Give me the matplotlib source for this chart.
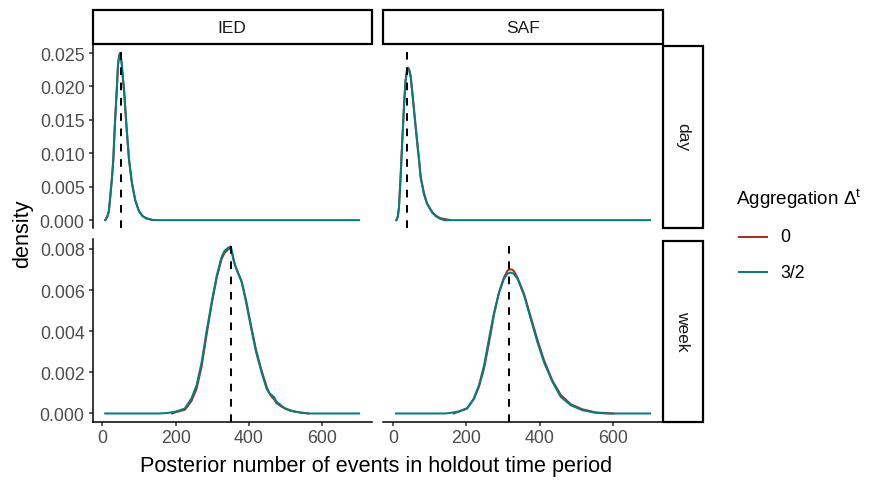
import matplotlib
matplotlib.use("Agg")
import matplotlib.pyplot as plt
from matplotlib.lines import Line2D
from matplotlib.patches import Rectangle

plt.rcParams['font.family'] = ['Liberation Sans', 'DejaVu Sans']
plt.rcParams['mathtext.fontset'] = 'custom'
plt.rcParams['mathtext.rm'] = 'Liberation Sans'
plt.rcParams['mathtext.it'] = 'Liberation Sans:italic'

# ---------------- data ----------------
col_labels = ["IED", "SAF"]
row_labels = ["day", "week"]
series_labels = ["0", "3/2"]
series_colors = ["#B2271E", "#00807F"]

# IED / day
ied_day_x_teal = [8, 14, 18, 23, 27, 30, 34, 39, 43, 46, 48, 50, 53, 56, 60, 66, 73, 81, 90, 100, 110, 120, 135, 150, 700]
ied_day_y_teal = [0, 0.0006, 0.00135, 0.0043, 0.0068, 0.009, 0.0139, 0.019, 0.0234, 0.0246, 0.0250, 0.0247, 0.0234,
                  0.0213, 0.0189, 0.0139, 0.0089, 0.0054, 0.0029, 0.0013, 0.0006, 0.00025, 0.00005, 0, 0]
ied_day_x_red = [8, 14, 18, 23, 27, 30, 34, 39, 43, 46, 48, 50, 53, 56, 60, 66, 73, 81, 90, 100, 110, 120, 138]
ied_day_y_red = [0, 0.0005, 0.0013, 0.0041, 0.0066, 0.0089, 0.0138, 0.0189, 0.0232, 0.0245, 0.0249, 0.0247, 0.0235,
                 0.0215, 0.0191, 0.0141, 0.0091, 0.0056, 0.0030, 0.0014, 0.0006, 0.0003, 0]

# SAF / day
saf_day_x_teal = [9, 13, 16, 20, 25, 30, 34, 38, 41, 44, 48, 52, 57, 62, 66, 71, 75, 84, 92, 98, 107, 116, 128, 140, 700]
saf_day_y_teal = [0, 0.0006, 0.0019, 0.006, 0.0118, 0.0174, 0.0209, 0.0224, 0.0227, 0.0224, 0.0214, 0.0192, 0.0164,
                  0.0136, 0.0114, 0.0088, 0.0064, 0.0039, 0.0025, 0.0019, 0.0011, 0.0006, 0.0002, 0, 0]
saf_day_x_red = [9, 13, 16, 20, 25, 30, 34, 38, 41, 44, 48, 52, 57, 62, 66, 71, 75, 84, 92, 98, 107, 116, 128, 157]
saf_day_y_red = [0, 0.0005, 0.0018, 0.0058, 0.0116, 0.0173, 0.0208, 0.0224, 0.0228, 0.0225, 0.0216, 0.0194, 0.0166,
                 0.0138, 0.0116, 0.0090, 0.0066, 0.0041, 0.0026, 0.0020, 0.0012, 0.0007, 0.0003, 0]

# IED / week
ied_week_x_teal = [8, 157, 180, 202, 225, 243, 257, 271, 284, 298, 312, 325, 333, 339, 345, 348, 352, 357, 362, 368,
                   380, 392, 404, 419, 434, 448, 455, 462, 468, 475, 487, 498, 510, 521, 540, 566, 700]
ied_week_y_teal = [0, 0, 0.00003, 0.0001, 0.00024, 0.00073, 0.00137, 0.0025, 0.00396, 0.0054, 0.0067, 0.0076, 0.0079,
                   0.0080, 0.00808, 0.0081, 0.0080, 0.0075, 0.0072, 0.00695, 0.0064, 0.0054, 0.0043, 0.0030, 0.0020,
                   0.0012, 0.0010, 0.00089, 0.0008, 0.00057, 0.0004, 0.00024, 0.00015, 0.0001, 0.00004, 0, 0]
ied_week_x_red = [190, 202, 225, 243, 257, 271, 284, 298, 312, 325, 333, 339, 345, 350, 354, 358, 362, 368, 380, 392,
                  404, 419, 434, 448, 455, 462, 468, 475, 487, 498, 510, 521, 540, 561]
ied_week_y_red = [0, 0.00007, 0.00018, 0.00060, 0.0012, 0.0023, 0.0038, 0.0053, 0.0066, 0.0075, 0.0078, 0.0079,
                  0.0080, 0.0080, 0.0078, 0.0075, 0.0072, 0.0069, 0.0064, 0.0055, 0.0044, 0.0031, 0.0021, 0.0013,
                  0.0010, 0.0008, 0.0007, 0.0005, 0.00035, 0.00025, 0.00017, 0.00011, 0.00005, 0]

# SAF / week
saf_week_x_teal = [8, 143, 160, 180, 202, 220, 234, 248, 261, 275, 289, 302, 312, 320, 328, 339, 357, 375, 393, 411,
                   434, 457, 484, 516, 552, 580, 700]
saf_week_y_teal = [0, 0, 0.00004, 0.0001, 0.00024, 0.00073, 0.00137, 0.00234, 0.0036, 0.0049, 0.0059, 0.00655,
                   0.0068, 0.00685, 0.0068, 0.00655, 0.00574, 0.0046, 0.00348, 0.0025, 0.00154, 0.0008, 0.0004,
                   0.00016, 0.00003, 0, 0]
saf_week_x_red = [165, 180, 202, 220, 234, 248, 261, 275, 289, 302, 312, 318, 324, 330, 339, 357, 375, 393, 411, 434,
                  457, 484, 516, 552, 600]
saf_week_y_red = [0, 0.0001, 0.00026, 0.0007, 0.0013, 0.0022, 0.0034, 0.0048, 0.0059, 0.0066, 0.00695, 0.0070,
                  0.0070, 0.0069, 0.0066, 0.0058, 0.0047, 0.0036, 0.0026, 0.0016, 0.0009, 0.00045, 0.0002, 0.00005, 0]

# observed values (dashed lines)
observed = {("IED", "day"): 50, ("SAF", "day"): 39, ("IED", "week"): 352, ("SAF", "week"): 317}

x_ticks = [0, 200, 400, 600]
y_ticks = {"day": [0.000, 0.005, 0.010, 0.015, 0.020, 0.025],
           "week": [0.000, 0.002, 0.004, 0.006, 0.008]}

curves = {
    ("IED", "day"): [(ied_day_x_red, ied_day_y_red), (ied_day_x_teal, ied_day_y_teal)],
    ("SAF", "day"): [(saf_day_x_red, saf_day_y_red), (saf_day_x_teal, saf_day_y_teal)],
    ("IED", "week"): [(ied_week_x_red, ied_week_y_red), (ied_week_x_teal, ied_week_y_teal)],
    ("SAF", "week"): [(saf_week_x_red, saf_week_y_red), (saf_week_x_teal, saf_week_y_teal)],
}

# ---------------- layout ----------------
W, H = 892, 489
fig = plt.figure(figsize=(W / 100, H / 100), dpi=100)


def fr(x0, y0, x1, y1):
    return [x0 / W, 1 - y1 / H, (x1 - x0) / W, (y1 - y0) / H]


col_x = [(92.5, 371.8), (383.3, 662.7)]
row_y = [(45.0, 228.5), (240.0, 422.5)]

xmin, xmax = 8, 700
xpad = 0.05 * (xmax - xmin)
ylims = {"day": (-0.0011, 0.02635), "week": (-0.00039, 0.00848)}

tick_col = "#333333"
lab_col = "#4D4D4D"
fs_tick = 12.75
fs_strip = 12.5
fs_title = 15.6

for ri, row in enumerate(row_labels):
    for ci, col in enumerate(col_labels):
        ax = fig.add_axes(fr(col_x[ci][0], row_y[ri][0], col_x[ci][1], row_y[ri][1]))
        ax.set_facecolor("white")
        for (xs, ys), c in zip(curves[(col, row)], series_colors):
            ax.plot(xs, ys, color=c, lw=1.45, solid_joinstyle="round")
        ax.axvline(observed[(col, row)], color="black", lw=1.45, ls=(0, (3.8, 3.8)))
        ax.set_xlim(xmin - xpad, xmax + xpad)
        ax.set_ylim(*ylims[row])
        for s in ["top", "right"]:
            ax.spines[s].set_visible(False)
        ax.spines["left"].set_visible(ci == 0)
        ax.spines["bottom"].set_visible(ri == 1)
        for s in ["left", "bottom"]:
            ax.spines[s].set_linewidth(1.1)
        ax.set_xticks(x_ticks)
        ax.set_yticks(y_ticks[row])
        ax.set_yticklabels([f"{v:.3f}" for v in y_ticks[row]])
        ax.tick_params(axis="both", colors=tick_col, labelcolor=lab_col, labelsize=fs_tick,
                       length=3.2, width=1.1, pad=2.5)
        if ci != 0:
            ax.tick_params(axis="y", left=False, labelleft=False)
        if ri != 1:
            ax.tick_params(axis="x", bottom=False, labelbottom=False)

        # column strips
        if ri == 0:
            fig.add_artist(Rectangle((col_x[ci][0] / W, 1 - 45 / H), (col_x[ci][1] - col_x[ci][0]) / W, 34 / H,
                                     transform=fig.transFigure, facecolor="white", edgecolor="black", lw=1.6))
            fig.text((col_x[ci][0] + col_x[ci][1]) / 2 / W, 1 - 28.5 / H, col, ha="center", va="center",
                     fontsize=fs_strip, color="#1A1A1A")
        # row strips
        if ci == 1:
            y0, y1 = row_y[ri]
            fig.add_artist(Rectangle((663.3 / W, 1 - y1 / H), 39.5 / W, (y1 - y0 - 1.5) / H,
                                     transform=fig.transFigure, facecolor="white", edgecolor="black", lw=1.6))
            fig.text(683 / W, 1 - (y0 + y1) / 2 / H, row, ha="center", va="center", rotation=-90,
                     fontsize=fs_strip, color="#1A1A1A")

fig.text(23 / W, 1 - 234 / H, "density", rotation=90, ha="center", va="center", fontsize=fs_title)
fig.text(376 / W, 1 - 467 / H, "Posterior number of events in holdout time period", ha="center", va="center",
         fontsize=fs_title)

# legend
fig.text(736 / W, 1 - 199 / H, r"Aggregation $\mathregular{\Delta^{t}}$", ha="left", va="center", fontsize=13.6)
for lab, c, yy in zip(series_labels, series_colors, [237.7, 273.0]):
    fig.add_artist(Line2D([739 / W, 767 / W], [1 - yy / H, 1 - yy / H], color=c, lw=1.45,
                          transform=fig.transFigure))
    fig.text(780 / W, 1 - yy / H, lab, ha="left", va="center", fontsize=fs_tick)

fig.savefig("out.png", dpi=100, facecolor="white")
